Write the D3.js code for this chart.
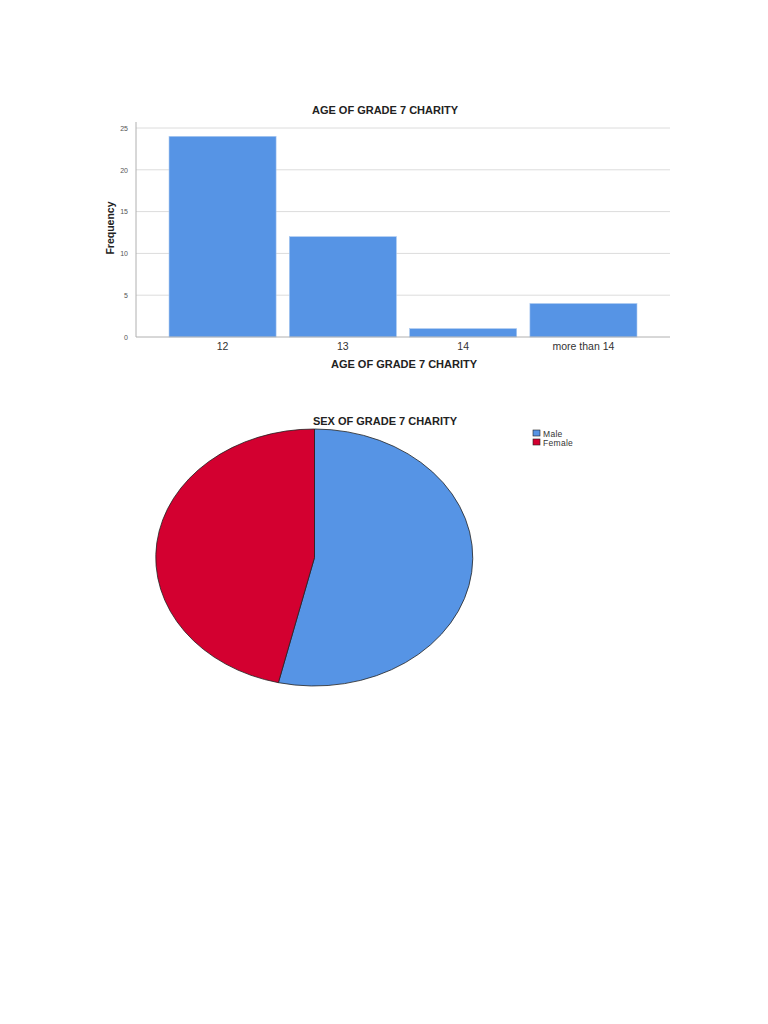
<!DOCTYPE html>
<html><head><meta charset="utf-8">
<script src="https://cdn.jsdelivr.net/npm/d3@7"></script>
<style>html,body{margin:0;padding:0;background:#fff;}svg{display:block;font-family:"Liberation Sans",Arial,sans-serif;}</style>
</head><body>
<svg id="c" width="768" height="1024"></svg>
<script>
const ageCategories = ["12", "13", "14", "more than 14"];
const ageFrequency = [24, 12, 1, 4];
const yTicks = [0, 5, 10, 15, 20, 25];
const sexCategories = ["Male", "Female"];
const sexCounts = [22, 19];
const sexColors = ["#5694e5", "#d30030"];

const svg = d3.select("#c");
const blue = "#5694e5";

// ---- Bar chart ----
const x = d3.scaleBand().domain(ageCategories).range([136, 670]).paddingInner(0.11).paddingOuter(0.2745);
const y = d3.scaleLinear().domain([0, 25]).range([337, 128]);

const g = svg.append("g");
g.selectAll("line.grid").data(yTicks.filter(t => t > 0)).join("line")
  .attr("x1", 136).attr("x2", 670).attr("y1", d => y(d)).attr("y2", d => y(d))
  .attr("stroke", "#dcdcdc").attr("stroke-width", 1);

g.selectAll("rect.bar").data(ageFrequency).join("rect")
  .attr("x", (d, i) => x(ageCategories[i]))
  .attr("width", x.bandwidth())
  .attr("y", d => y(d)).attr("height", d => y(0) - y(d))
  .attr("fill", blue).attr("stroke", "#a9c8f0").attr("stroke-width", 0.6);

const yAxis = d3.axisLeft(y).tickValues(yTicks).tickSize(0).tickPadding(8);
const ya = g.append("g").attr("transform", "translate(136,0)").call(yAxis);
ya.select(".domain").attr("stroke", "#b0b0b0").attr("d", "M0,122V337");
ya.selectAll("text").attr("font-size", 7).attr("fill", "#555").attr("font-family", "Liberation Sans, Arial, sans-serif");

const xAxis = d3.axisBottom(x).tickSize(0).tickPadding(6);
const xa = g.append("g").attr("transform", "translate(0,337)").call(xAxis);
xa.select(".domain").attr("stroke", "#b0b0b0").attr("d", "M136,0H670");
xa.selectAll("text").attr("font-size", 10.5).attr("fill", "#333").attr("font-family", "Liberation Sans, Arial, sans-serif");

g.append("text").attr("x", 385).attr("y", 114).attr("text-anchor", "middle")
  .attr("font-size", 11).attr("font-weight", "bold").attr("fill", "#222").text("AGE OF GRADE 7 CHARITY");
g.append("text").attr("x", 404).attr("y", 368).attr("text-anchor", "middle")
  .attr("font-size", 11).attr("font-weight", "bold").attr("fill", "#222").text("AGE OF GRADE 7 CHARITY");
g.append("text").attr("transform", "translate(114,228) rotate(-90)").attr("text-anchor", "middle")
  .attr("font-size", 10.5).attr("font-weight", "600").attr("fill", "#222").text("Frequency");

// ---- Pie chart ----
const cx = 314.5, cy = 557.5, rx = 158.5, ry = 128.5;
const pie = d3.pie().sort(null).value(d => d)(sexCounts);
const arc = d3.arc().innerRadius(0).outerRadius(1);
const pg = svg.append("g").attr("transform", `translate(${cx},${cy}) scale(${rx},${ry})`);
pg.selectAll("path").data(pie).join("path")
  .attr("d", arc)
  .attr("fill", (d, i) => sexColors[i])
  .attr("stroke", "#222").attr("stroke-width", 0.8)
  .attr("vector-effect", "non-scaling-stroke");

svg.append("text").attr("x", 385).attr("y", 425).attr("text-anchor", "middle")
  .attr("font-size", 11).attr("font-weight", "bold").attr("fill", "#222").text("SEX OF GRADE 7 CHARITY");

const lg = svg.append("g");
lg.selectAll("rect").data(sexCategories).join("rect")
  .attr("x", 533).attr("y", (d, i) => 430 + i * 9).attr("width", 7).attr("height", 6)
  .attr("fill", (d, i) => sexColors[i]).attr("stroke", "#222").attr("stroke-width", 0.6);
lg.selectAll("text").data(sexCategories).join("text")
  .attr("x", 543).attr("y", (d, i) => 436.5 + i * 9)
  .attr("font-size", 8.5).attr("letter-spacing", 0.3).attr("fill", "#333").text(d => d);
</script>
</body></html>
